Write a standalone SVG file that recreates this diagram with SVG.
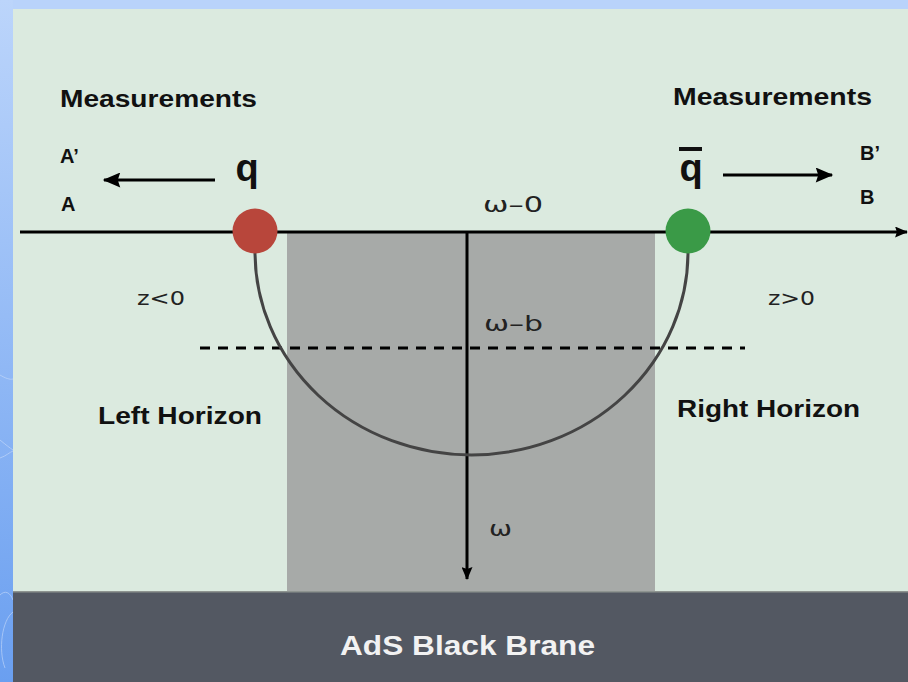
<svg xmlns="http://www.w3.org/2000/svg" width="908" height="682" viewBox="0 0 908 682">
<defs>
<linearGradient id="side" x1="0" y1="0" x2="0" y2="1">
<stop offset="0" stop-color="#bcd5fb"/>
<stop offset="1" stop-color="#6a9ff0"/>
</linearGradient>
<marker id="ah" viewBox="0 0 14 12" refX="13" refY="6" markerWidth="19" markerHeight="15" markerUnits="userSpaceOnUse" orient="auto">
<path d="M0,0 L14,6 L0,12 L2,6 z" fill="#000"/>
</marker>
<marker id="ahs" viewBox="0 0 14 12" refX="13" refY="6" markerWidth="13" markerHeight="11" markerUnits="userSpaceOnUse" orient="auto">
<path d="M0,0 L14,6 L0,12 L2,6 z" fill="#000"/>
</marker>
</defs>
<style>
.lbl{font-family:"Liberation Sans",Arial,sans-serif;font-weight:bold;fill:#111}
.thin{font-family:"DejaVu Sans","Liberation Sans",sans-serif;fill:#222}
.line{stroke:#000;stroke-width:3;fill:none}
</style>
<rect x="0" y="0" width="908" height="682" fill="#b9d3fb"/>
<rect x="0" y="0" width="13" height="682" fill="url(#side)"/>
<g fill="none" stroke="#cfe0fb" stroke-width="0.8" opacity="0.7">
<path d="M0,375 C5,378 10,380 13,379"/>
<path d="M0,440 C6,445 10,448 13,450"/>
<path d="M0,458 C6,456 10,452 13,451"/>
<path d="M13,612 C2,620 -2,650 5,668"/>
<path d="M0,595 C5,590 10,592 13,600"/>
</g>
<rect x="13" y="9" width="895" height="673" fill="#dbeadf"/>
<g id="bulk">
<rect x="287" y="232" width="368" height="360" fill="#a7aaa8"/>
</g>
<g id="brane">
<rect x="13" y="591" width="895" height="91" fill="#535862"/>
<rect x="13" y="591" width="895" height="1.5" fill="#8e9490"/>
<text x="340" y="655" textLength="255" lengthAdjust="spacingAndGlyphs" class="lbl" style="fill:#f2f2f2;font-size:27px">AdS Black Brane</text>
</g>
<g id="connectors">
<line x1="20" y1="232" x2="907" y2="232" class="line" stroke-width="2.5" marker-end="url(#ahs)"/>
<line x1="467" y1="232" x2="467" y2="579" class="line" stroke-width="2.5" marker-end="url(#ahs)"/>
<line x1="200" y1="348" x2="745" y2="348" class="line" stroke-dasharray="10,8"/>
<path d="M255,252 A216.5,203 0 0 0 688,252" fill="none" stroke="#444" stroke-width="3"/>
<line x1="215" y1="180" x2="104" y2="180" class="line" marker-end="url(#ah)"/>
<line x1="723" y1="175" x2="832" y2="175" class="line" marker-end="url(#ah)"/>
</g>
<g id="quark">
<circle cx="255" cy="231" r="22.5" fill="#b8463b"/>
<text x="247" y="181" text-anchor="middle" class="lbl" style="font-size:38px">q</text>
</g>
<g id="antiquark">
<circle cx="688" cy="231" r="22.5" fill="#3a9a47"/>
<text x="691" y="181" text-anchor="middle" class="lbl" style="font-size:38px">q</text>
<rect x="679" y="147" width="23" height="4" fill="#111"/>
</g>
<g id="labels">
<text x="60" y="107" textLength="197" lengthAdjust="spacingAndGlyphs" class="lbl" style="font-size:23px">Measurements</text>
<text x="673" y="105" textLength="199" lengthAdjust="spacingAndGlyphs" class="lbl" style="font-size:23px">Measurements</text>
<text x="60" y="163" class="lbl" style="font-size:20px">A’</text>
<text x="61" y="211" class="lbl" style="font-size:20px">A</text>
<text x="860" y="160" class="lbl" style="font-size:20px">B’</text>
<text x="860" y="204" class="lbl" style="font-size:20px">B</text>
<text x="483" y="212" textLength="60" lengthAdjust="spacingAndGlyphs" class="thin" style="font-size:21px">ω–0</text>
<text x="484" y="331" textLength="59" lengthAdjust="spacingAndGlyphs" class="thin" style="font-size:21px">ω–b</text>
<text x="489" y="536" textLength="23" lengthAdjust="spacingAndGlyphs" class="thin" style="font-size:21px">ω</text>
<text x="137" y="305" textLength="48" lengthAdjust="spacingAndGlyphs" class="thin" style="font-size:20px">z&lt;0</text>
<text x="768" y="305" textLength="47" lengthAdjust="spacingAndGlyphs" class="thin" style="font-size:20px">z&gt;0</text>
<text x="98" y="424" textLength="164" lengthAdjust="spacingAndGlyphs" class="lbl" style="font-size:24px">Left Horizon</text>
<text x="677" y="417" textLength="183" lengthAdjust="spacingAndGlyphs" class="lbl" style="font-size:24px">Right Horizon</text>
</g>
</svg>
